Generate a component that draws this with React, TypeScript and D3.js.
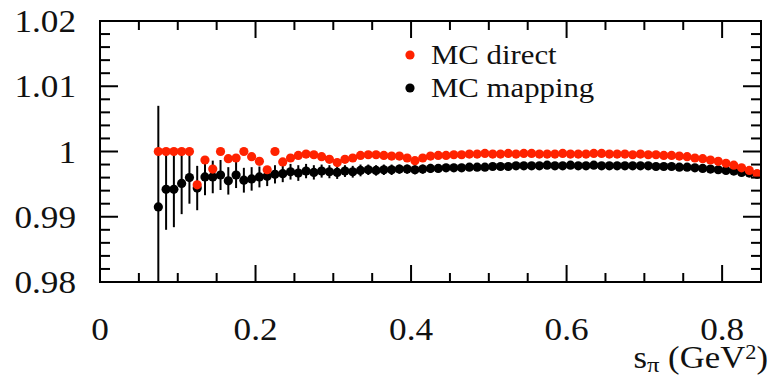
import React from "react";
import * as d3 from "d3";

const sPi = [
  0.075, 0.085, 0.095, 0.105, 0.115, 0.125, 0.135, 0.145, 0.155, 0.165,
  0.175, 0.185, 0.195, 0.205, 0.215, 0.225, 0.235, 0.245, 0.255, 0.265,
  0.275, 0.285, 0.295, 0.305, 0.315, 0.325, 0.335, 0.345, 0.355, 0.365,
  0.375, 0.385, 0.395, 0.405, 0.415, 0.425, 0.435, 0.445, 0.455, 0.465,
  0.475, 0.485, 0.495, 0.505, 0.515, 0.525, 0.535, 0.545, 0.555, 0.565,
  0.575, 0.585, 0.595, 0.605, 0.615, 0.625, 0.635, 0.645, 0.655, 0.665,
  0.675, 0.685, 0.695, 0.705, 0.715, 0.725, 0.735, 0.745, 0.755, 0.765,
  0.775, 0.785, 0.795, 0.805, 0.815, 0.825, 0.835, 0.845,
];

const mcDirect = [
  1.0, 1.0, 1.0, 1.0, 1.0, 0.9949, 0.9987, 0.9973, 1.0, 0.9989,
  0.999, 1.0, 0.9992, 0.9985, 0.9972, 1.0, 0.9984, 0.999, 0.9994, 0.9996,
  0.9995, 0.9992, 0.9988, 0.9983, 0.9988, 0.999, 0.9994, 0.9995, 0.9995, 0.9994,
  0.9993, 0.9993, 0.999, 0.9986, 0.999, 0.9993, 0.9994, 0.9994, 0.9995, 0.9995,
  0.9996, 0.9996, 0.9997, 0.9996, 0.9996, 0.9997, 0.9996, 0.9997, 0.9997, 0.9996,
  0.9996, 0.9996, 0.9997, 0.9996, 0.9996, 0.9996, 0.9997, 0.9997, 0.9996, 0.9996,
  0.9996, 0.9995, 0.9996, 0.9995, 0.9995, 0.9994, 0.9994, 0.9993, 0.9992, 0.999,
  0.9989, 0.9987, 0.9985, 0.9982, 0.9979, 0.9975, 0.9971, 0.9966,
];

const mcMapping = [
  0.9915, 0.9942, 0.9942, 0.9951, 0.996, 0.9944, 0.9961, 0.9961, 0.9964, 0.9955,
  0.9964, 0.9956, 0.9958, 0.9961, 0.9962, 0.9965, 0.9966, 0.9969, 0.9967, 0.997,
  0.9968, 0.997, 0.9969, 0.9968, 0.997, 0.9969, 0.9971, 0.9972, 0.9971, 0.9972,
  0.9972, 0.9973, 0.9973, 0.9972, 0.9973, 0.9974, 0.9974, 0.9975, 0.9975, 0.9975,
  0.9976, 0.9976, 0.9976, 0.9977, 0.9977, 0.9977, 0.9978, 0.9978, 0.9978, 0.9978,
  0.9979, 0.9978, 0.9978, 0.9979, 0.9978, 0.9978, 0.9979, 0.9978, 0.9978, 0.9978,
  0.9978, 0.9978, 0.9978, 0.9978, 0.9977, 0.9977, 0.9977, 0.9976, 0.9976, 0.9975,
  0.9974, 0.9973, 0.9972, 0.9971, 0.997, 0.9968, 0.9967, 0.9965,
];

const mcMappingErr = [
  0.0155, 0.0062, 0.0058, 0.0047, 0.004, 0.0034, 0.0028, 0.0025, 0.0023, 0.0021,
  0.002, 0.0019, 0.0018, 0.0016, 0.0015, 0.0014, 0.0013, 0.0012, 0.0012, 0.0011,
  0.0011, 0.001, 0.001, 0.001, 0.0009, 0.0009, 0.0009, 0.0008, 0.0008, 0.0008,
  0.0008, 0.0007, 0.0007, 0.0007, 0.0007, 0.0007, 0.0006, 0.0006, 0.0006, 0.0006,
  0.0006, 0.0006, 0.0005, 0.0005, 0.0005, 0.0005, 0.0005, 0.0005, 0.0005, 0.0005,
  0.0005, 0.0005, 0.0005, 0.0005, 0.0005, 0.0005, 0.0005, 0.0005, 0.0005, 0.0005,
  0.0005, 0.0005, 0.0005, 0.0005, 0.0005, 0.0005, 0.0005, 0.0005, 0.0005, 0.0005,
  0.0005, 0.0005, 0.0005, 0.0005, 0.0005, 0.0005, 0.0005, 0.0005,
];

const xMajorTicks = [0, 0.2, 0.4, 0.6, 0.8];
const xTickLabels = ["0", "0.2", "0.4", "0.6", "0.8"];
const yMajorTicks = [0.98, 0.99, 1.0, 1.01, 1.02];
const yTickLabels = ["0.98", "0.99", "1", "1.01", "1.02"];
const legendLabels = ["MC direct", "MC mapping"];

const W = 769;
const H = 375;
const L = 100, R = 761, T = 21, B = 282;
const RED = "#ff2200";
const FONT = "Liberation Serif, Tinos, Times New Roman, Times, serif";
const SX = 1.1;

export default function App() {
  const x = d3.scaleLinear().domain([0, 0.85]).range([L, R]);
  const y = d3.scaleLinear().domain([0.98, 1.02]).range([B, T]);

  const xMinor = d3.range(0, 0.851, 0.05).filter(v => !xMajorTicks.some(m => Math.abs(m - v) < 1e-6));
  const yMinor = d3.range(0.98, 1.0201, 0.002).filter(v => !yMajorTicks.some(m => Math.abs(m - v) < 1e-6));

  const ticks: JSX.Element[] = [];
  xMajorTicks.forEach((v, i) => {
    const px = x(v);
    ticks.push(<line key={"xb" + i} x1={px} x2={px} y1={B} y2={B - 17} />);
    ticks.push(<line key={"xt" + i} x1={px} x2={px} y1={T} y2={T + 17} />);
  });
  xMinor.forEach((v, i) => {
    const px = x(v);
    ticks.push(<line key={"xbm" + i} x1={px} x2={px} y1={B} y2={B - 9} />);
    ticks.push(<line key={"xtm" + i} x1={px} x2={px} y1={T} y2={T + 9} />);
  });
  yMajorTicks.forEach((v, i) => {
    const py = y(v);
    ticks.push(<line key={"yl" + i} x1={L} x2={L + 18} y1={py} y2={py} />);
    ticks.push(<line key={"yr" + i} x1={R} x2={R - 18} y1={py} y2={py} />);
  });
  yMinor.forEach((v, i) => {
    const py = y(v);
    ticks.push(<line key={"ylm" + i} x1={L} x2={L + 10} y1={py} y2={py} />);
    ticks.push(<line key={"yrm" + i} x1={R} x2={R - 10} y1={py} y2={py} />);
  });

  return (
    <svg width={W} height={H} style={{ position: "absolute", left: 0, top: 0, background: "#fff" }}>
      <rect x={0} y={0} width={W} height={H} fill="#fff" />
      <defs>
        <clipPath id="plotclip">
          <rect x={L} y={T} width={R - L} height={B - T} />
        </clipPath>
      </defs>
      <g clipPath="url(#plotclip)">
        {sPi.map((s, i) => (
          <line key={"e" + i} x1={x(s)} x2={x(s)}
            y1={y(mcMapping[i] - mcMappingErr[i])} y2={y(mcMapping[i] + mcMappingErr[i])}
            stroke="#000" strokeWidth={2} />
        ))}
        {sPi.map((s, i) => (
          <circle key={"b" + i} cx={x(s)} cy={y(mcMapping[i])} r={4.6} fill="#000" />
        ))}
        {sPi.map((s, i) => (
          <circle key={"r" + i} cx={x(s)} cy={y(mcDirect[i])} r={4.6} fill={RED} />
        ))}
      </g>
      <g stroke="#000" strokeWidth={2}>{ticks}</g>
      <rect x={L} y={T} width={R - L} height={B - T} fill="none" stroke="#000" strokeWidth={2} />
      <g style={{ fontFamily: FONT }} fill="#111">
        {yMajorTicks.map((v, i) => (
          <text key={"yt" + i} transform={`translate(76,${y(v) + 11}) scale(${SX},1)`}
            textAnchor="end" fontSize={32}>{yTickLabels[i]}</text>
        ))}
        {xMajorTicks.map((v, i) => (
          <text key={"xt" + i} transform={`translate(${x(v)},${340}) scale(${SX},1)`}
            textAnchor="middle" fontSize={32}>{xTickLabels[i]}</text>
        ))}
        <text transform={`translate(768,368) scale(1.12,1)`} textAnchor="end" fontSize={31}>
          s<tspan fontSize={22} dy={4}>π</tspan>
          <tspan dy={-4}> (GeV</tspan>
          <tspan fontSize={20} dy={-9}>2</tspan>
          <tspan dy={9}>)</tspan>
        </text>
        <circle cx={410} cy={55} r={4.6} fill={RED} />
        <circle cx={410} cy={88} r={4.6} fill="#000" />
        <text transform={`translate(431,64) scale(1.14,1)`} fontSize={27}>{legendLabels[0]}</text>
        <text transform={`translate(431,97) scale(1.14,1)`} fontSize={27}>{legendLabels[1]}</text>
      </g>
    </svg>
  );
}
